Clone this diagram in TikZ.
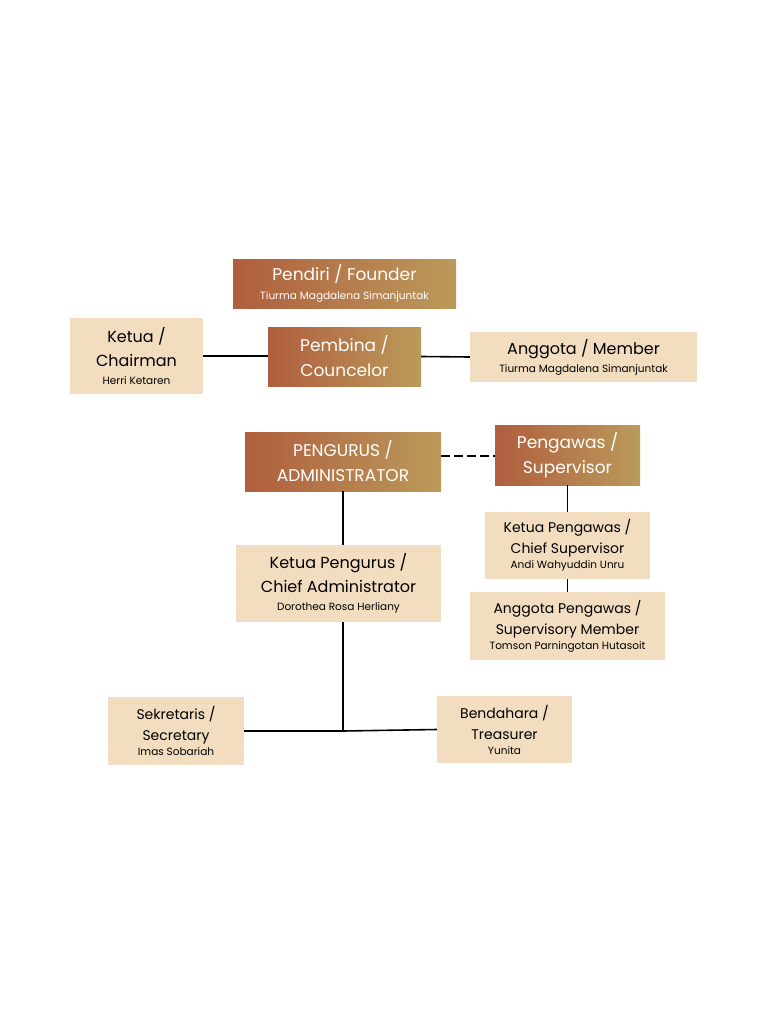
\documentclass[tikz,border=0pt]{standalone}
\usepackage{fontspec}
\setmainfont{Poppins}
\usetikzlibrary{positioning}
\definecolor{rust}{HTML}{B05E3E}
\definecolor{gold}{HTML}{BA9A5A}
\definecolor{sand}{HTML}{F3DDC0}
\tikzset{
  lead/.style={left color=rust, right color=gold, text=white, align=center, inner sep=0pt, font=\fontsize{17}{25}\selectfont},
  staff/.style={fill=sand, align=center, inner sep=0pt, font=\fontsize{16}{24}\selectfont},
  link/.style={line width=1.6pt, black}
}
\newcommand{\who}[1]{\\[-6pt]{\fontsize{10.5}{13}\selectfont #1}}
\begin{document}
\begin{tikzpicture}[x=1pt,y=-1pt]
  \useasboundingbox[fill=white] (0,0) rectangle (768,1024);
  % Top level
  \node[lead, minimum width=223pt, minimum height=49pt] (founder) at (344.5,283.5) {Pendiri / Founder\who{Tiurma Magdalena Simanjuntak}};
  \node[lead, minimum width=153pt, minimum height=59pt] (pembina) at (344.5,356.5) {Pembina /\\Councelor};
  \node[staff, minimum width=133pt, minimum height=76pt] (chairman) at (136.5,356) {Ketua /\\Chairman\who{Herri Ketaren}};
  \node[staff, minimum width=227pt, minimum height=50pt] (member) at (583.5,357) {Anggota / Member\who{Tiurma Magdalena Simanjuntak}};
  % Administration
  \node[lead, minimum width=196pt, minimum height=59pt] (pengurus) at (343,461.5) {PENGURUS /\\ADMINISTRATOR};
  \node[lead, minimum width=145pt, minimum height=60pt] (pengawas) at (567.5,455) {Pengawas /\\Supervisor};
  \node[staff, minimum width=165pt, minimum height=67pt, font=\fontsize{14}{21}\selectfont] (chiefsup) at (567.5,545.5) {Ketua Pengawas /\\Chief Supervisor\who{Andi Wahyuddin Unru}};
  \node[staff, minimum width=195pt, minimum height=68pt, font=\fontsize{14}{21}\selectfont] (supmember) at (567.5,626) {Anggota Pengawas /\\Supervisory Member\who{Tomson Parningotan Hutasoit}};
  \node[staff, minimum width=205pt, minimum height=77pt] (chiefadmin) at (338.5,583.5) {Ketua Pengurus /\\Chief Administrator\who{Dorothea Rosa Herliany}};
  \node[staff, minimum width=136pt, minimum height=68pt, font=\fontsize{14}{21}\selectfont] (secretary) at (176,731) {Sekretaris /\\Secretary\who{Imas Sobariah}};
  \node[staff, minimum width=135pt, minimum height=67pt, font=\fontsize{14}{21}\selectfont] (treasurer) at (504.5,729.5) {Bendahara /\\Treasurer\who{Yunita}};
  \coordinate (split) at (343,731);
  % Connectors
  \draw[link] (chairman.east) -- (pembina.west |- chairman.east);
  \draw[link] (pembina.east) -- (member.west);
  \draw[link, dashed, dash pattern=on 9pt off 4pt] (pengurus.east |- 0,456) -- (pengawas.west |- 0,456);
  \draw[link] (pengawas.south) -- (chiefsup.north);
  \draw[link] (chiefsup.south) -- (supmember.north);
  \draw[link] (pengurus.south) -- (pengurus.south |- chiefadmin.north);
  \draw[link] (pengurus.south |- chiefadmin.south) -- (split);
  \draw[link] (secretary.east) -- (split) -- (treasurer.west);
\end{tikzpicture}
\end{document}
